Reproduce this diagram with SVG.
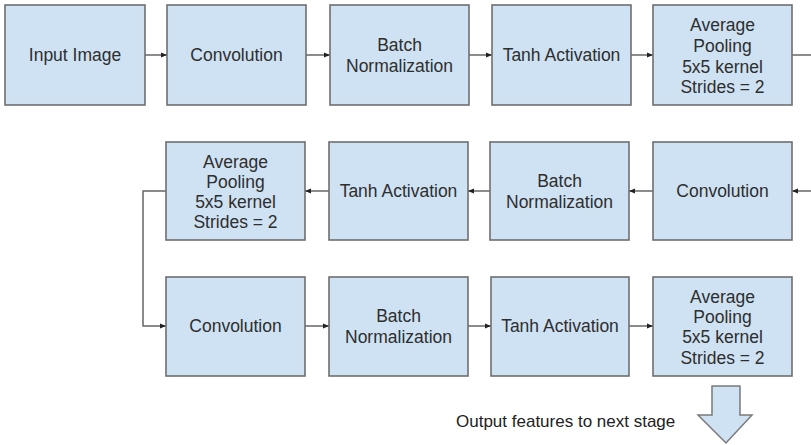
<svg xmlns="http://www.w3.org/2000/svg" width="811" height="445" viewBox="0 0 811 445">
  <style>
    .box { fill: #cfe2f3; stroke: #6e6e6e; stroke-width: 1.6; }
    .lbl { font-family: "Liberation Sans", Arial, sans-serif; font-size: 17.5px; fill: #2e2e2e; text-anchor: middle; }
    .note { font-family: "Liberation Sans", Arial, sans-serif; font-size: 17px; fill: #222222; }
    .wire { fill: none; stroke: #666666; stroke-width: 1.5; }
    .out { fill: #cfe2f3; stroke: #7a7a7a; stroke-width: 1.5; }
  </style>
  <defs>
    <marker id="head" viewBox="0 0 6 6" refX="6" refY="3" markerWidth="6" markerHeight="6" markerUnits="userSpaceOnUse" orient="auto">
      <path d="M0,0.5 L6,3 L0,5.5 Z" fill="#222222"/>
    </marker>
  </defs>

  <rect width="811" height="445" fill="#ffffff"/>

  <!-- connectors -->
  <g id="connectors">
    <line class="wire" x1="145" y1="55" x2="167" y2="55" marker-end="url(#head)"/>
    <line class="wire" x1="306" y1="55" x2="330" y2="55" marker-end="url(#head)"/>
    <line class="wire" x1="469" y1="55" x2="492" y2="55" marker-end="url(#head)"/>
    <line class="wire" x1="631" y1="55" x2="653" y2="55" marker-end="url(#head)"/>
    <line class="wire" x1="792" y1="55" x2="811" y2="55"/>

    <line class="wire" x1="811" y1="191" x2="792" y2="191" marker-end="url(#head)"/>
    <line class="wire" x1="653" y1="191" x2="629" y2="191" marker-end="url(#head)"/>
    <line class="wire" x1="490" y1="191" x2="468" y2="191" marker-end="url(#head)"/>
    <line class="wire" x1="329" y1="191" x2="305" y2="191" marker-end="url(#head)"/>
    <polyline class="wire" points="166,191 143,191 143,326 166,326" marker-end="url(#head)"/>

    <line class="wire" x1="305" y1="326" x2="329" y2="326" marker-end="url(#head)"/>
    <line class="wire" x1="468" y1="326" x2="491" y2="326" marker-end="url(#head)"/>
    <line class="wire" x1="629" y1="326" x2="653" y2="326" marker-end="url(#head)"/>
  </g>

  <!-- row 1 -->
  <g id="input-image">
    <rect class="box" x="5" y="5" width="140" height="100"/>
    <text class="lbl" x="75" y="61">Input Image</text>
  </g>
  <g id="conv-1">
    <rect class="box" x="167" y="5" width="139" height="100"/>
    <text class="lbl" x="236.5" y="61">Convolution</text>
  </g>
  <g id="bn-1">
    <rect class="box" x="330" y="5" width="139" height="100"/>
    <text class="lbl" x="399.5" y="51">Batch</text>
    <text class="lbl" x="399.5" y="72">Normalization</text>
  </g>
  <g id="tanh-1">
    <rect class="box" x="492" y="5" width="139" height="100"/>
    <text class="lbl" x="561.5" y="61">Tanh Activation</text>
  </g>
  <g id="pool-1">
    <rect class="box" x="653" y="5" width="139" height="100"/>
    <text class="lbl" x="722.5" y="31">Average</text>
    <text class="lbl" x="722.5" y="52">Pooling</text>
    <text class="lbl" x="722.5" y="72.5">5x5 kernel</text>
    <text class="lbl" x="722.5" y="93">Strides = 2</text>
  </g>

  <!-- row 2 -->
  <g id="conv-2">
    <rect class="box" x="653" y="142" width="139" height="98"/>
    <text class="lbl" x="722.5" y="197">Convolution</text>
  </g>
  <g id="bn-2">
    <rect class="box" x="490" y="142" width="139" height="98"/>
    <text class="lbl" x="559.5" y="187">Batch</text>
    <text class="lbl" x="559.5" y="208">Normalization</text>
  </g>
  <g id="tanh-2">
    <rect class="box" x="329" y="142" width="139" height="98"/>
    <text class="lbl" x="398.5" y="197">Tanh Activation</text>
  </g>
  <g id="pool-2">
    <rect class="box" x="166" y="142" width="139" height="98"/>
    <text class="lbl" x="235.5" y="168">Average</text>
    <text class="lbl" x="235.5" y="188">Pooling</text>
    <text class="lbl" x="235.5" y="208">5x5 kernel</text>
    <text class="lbl" x="235.5" y="228">Strides = 2</text>
  </g>

  <!-- row 3 -->
  <g id="conv-3">
    <rect class="box" x="166" y="277" width="139" height="99"/>
    <text class="lbl" x="235.5" y="332">Convolution</text>
  </g>
  <g id="bn-3">
    <rect class="box" x="329" y="277" width="139" height="99"/>
    <text class="lbl" x="398.5" y="322">Batch</text>
    <text class="lbl" x="398.5" y="343">Normalization</text>
  </g>
  <g id="tanh-3">
    <rect class="box" x="491" y="277" width="138" height="99"/>
    <text class="lbl" x="560" y="332">Tanh Activation</text>
  </g>
  <g id="pool-3">
    <rect class="box" x="653" y="277" width="139" height="99"/>
    <text class="lbl" x="722.5" y="303">Average</text>
    <text class="lbl" x="722.5" y="323">Pooling</text>
    <text class="lbl" x="722.5" y="343">5x5 kernel</text>
    <text class="lbl" x="722.5" y="364">Strides = 2</text>
  </g>

  <!-- output -->
  <g id="output">
    <polygon class="out" points="712,386 740,386 740,415 752,415 726,443 698,415 712,415"/>
    <text class="note" x="456" y="427">Output features to next stage</text>
  </g>
</svg>
